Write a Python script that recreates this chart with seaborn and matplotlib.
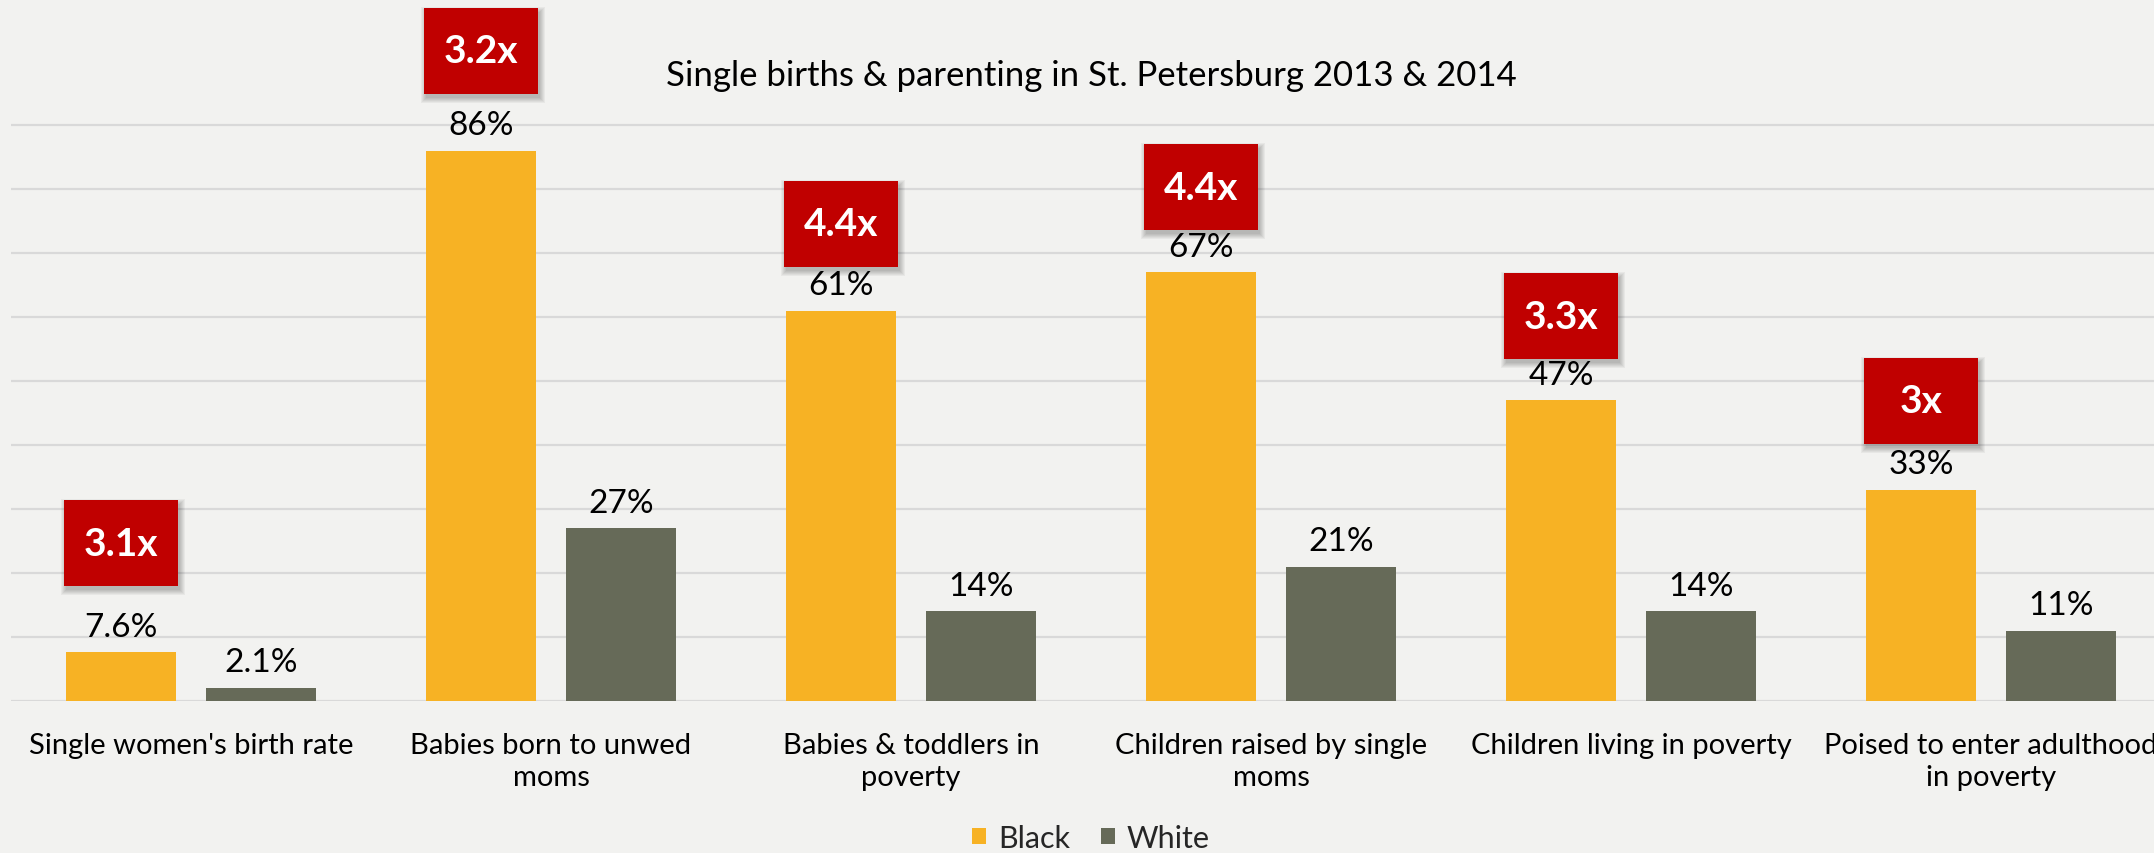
import matplotlib
matplotlib.use("Agg")
import matplotlib.pyplot as plt
from matplotlib.patches import Rectangle
import pandas as pd
import seaborn as sns

# ---- data -------------------------------------------------------------
categories = [
    "Single women's birth rate",
    "Babies born to unwed\nmoms",
    "Babies & toddlers in\npoverty",
    "Children raised by single\nmoms",
    "Children living in poverty",
    "Poised to enter adulthood\nin poverty",
]
groups = ["Black", "White"]
black_pct = [7.6, 86, 61, 67, 47, 33]
white_pct = [2.1, 27, 14, 21, 14, 11]
ratio_labels = ["3.1x", "3.2x", "4.4x", "4.4x", "3.3x", "3x"]
title = "Single births & parenting in St. Petersburg 2013 & 2014"

# ---- styling ----------------------------------------------------------
BG = "#F2F2F0"
ORANGE = "#F7B224"
OLIVE = "#666A58"
RED = "#C00000"
GRID = "#D9D9D9"
# vertical gap (px) between each black bar top and its ratio badge
badge_gap_px = [66, 57, 44, 42, 41, 46]

df = pd.DataFrame({
    "category": categories * 2,
    "group": [groups[0]] * len(categories) + [groups[1]] * len(categories),
    "pct": black_pct + white_pct,
})

sns.set_theme(style="white")
plt.rcParams["font.family"] = ["Lato", "DejaVu Sans"]

W, H = 2154, 854
fig = plt.figure(figsize=(W / 100, H / 100), dpi=100, facecolor=BG)
ax = fig.add_axes([11 / W, 152 / H, 2160 / W, 640 / H])
ax.set_facecolor(BG)

sns.barplot(
    data=df, x="category", y="pct", hue="group",
    order=categories, hue_order=groups,
    palette=[ORANGE, OLIVE], saturation=1,
    width=0.778, gap=0.214, linewidth=0, ax=ax,
)

ax.set_xlim(-0.5, len(categories) - 0.5)
ax.set_ylim(0, 100)
ax.set_yticks(range(0, 100, 10))
ax.yaxis.grid(True, color=GRID, linewidth=1.6)
ax.xaxis.grid(False)
ax.set_axisbelow(True)
for s in ax.spines.values():
    s.set_visible(False)
ax.set_xlabel("")
ax.set_ylabel("")
ax.tick_params(axis="y", left=False, labelleft=False)
ax.tick_params(axis="x", bottom=False, pad=16, labelsize=21, labelcolor="black")
for t in ax.get_xticklabels():
    t.set_linespacing(1.3)

# value labels
ax.bar_label(ax.containers[0], labels=[f"{v:g}%" for v in black_pct],
             padding=7.5, fontsize=24, color="black")
ax.bar_label(ax.containers[1], labels=[f"{v:g}%" for v in white_pct],
             padding=7.5, fontsize=24, color="black")

# ratio badges above the black bars, with a soft drop shadow
px_x = 360.0            # pixels per category unit
px_y = 640 / 100        # pixels per percentage point
badge_w = 114 / px_x
badge_h = 86 / px_y
for bar, lab, gap in zip(ax.containers[0], ratio_labels, badge_gap_px):
    cx = bar.get_x() + bar.get_width() / 2
    x0 = cx - badge_w / 2
    y0 = bar.get_height() + gap / px_y
    for r in (5, 4, 3, 2, 1, 0):
        ax.add_patch(Rectangle(
            (x0 + (2 - r) / px_x, y0 + (-4 - r) / px_y),
            badge_w + 2 * r / px_x, badge_h + 2 * r / px_y,
            facecolor="black", alpha=0.045, edgecolor="none",
            clip_on=False, zorder=4))
    ax.add_patch(Rectangle((x0, y0), badge_w, badge_h, facecolor=RED,
                           edgecolor="none", clip_on=False, zorder=5))
    ax.text(cx, y0 + badge_h / 2, lab, ha="center", va="center",
            color="white", fontsize=28, fontweight="bold", zorder=6, clip_on=False)

fig.text((11 + 1080) / W, 1 - 76 / H, title, ha="center", va="center",
         fontsize=25, color="black")

sns.move_legend(
    ax, "center", bbox_to_anchor=(0.5, -0.214), ncol=2, frameon=False,
    title=None, fontsize=22, handlelength=0.45, handleheight=0.45,
    handletextpad=0.4, columnspacing=1.0,
)

fig.savefig("out.png", dpi=100, facecolor=BG)
